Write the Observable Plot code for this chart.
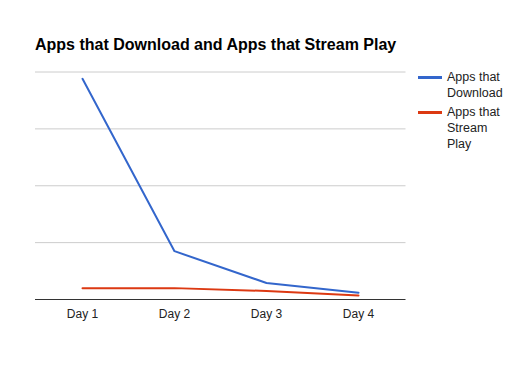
<!DOCTYPE html>
<html><head><meta charset="utf-8">
<script src="https://cdn.jsdelivr.net/npm/d3@7"></script>
<script src="https://cdn.jsdelivr.net/npm/@observablehq/plot@0.6"></script>
<style>
body{margin:0;background:#fff;font-family:"Liberation Sans",Arial,sans-serif;}
#wrap{position:relative;width:520px;height:371px;}
#title{position:absolute;left:35px;top:36px;font-size:16px;font-weight:bold;color:#000;white-space:nowrap;}
.leg{position:absolute;left:418px;font-size:12.5px;color:#222;line-height:16px;}
.leg .sw{position:absolute;left:0;top:7px;width:24px;height:2.5px;}
.leg .tx{position:absolute;left:29px;top:0;width:80px;}
</style></head>
<body><div id="wrap"><div id="chart"></div><div id="title"></div><div id="legend"></div></div>
<script>
const days = ["Day 1", "Day 2", "Day 3", "Day 4"];
const seriesNames = ["Apps that Download", "Apps that Stream Play"];
const download = [388, 85, 29, 12];
const stream = [20, 20, 15, 7];
const gridTicks = [100, 200, 300, 400];
const colors = ["#3366cc", "#dc3912"];
const titleText = "Apps that Download and Apps that Stream Play";

const data = [];
days.forEach((d, i) => {
  data.push({day: d, value: download[i], series: seriesNames[0]});
  data.push({day: d, value: stream[i], series: seriesNames[1]});
});

const chart = Plot.plot({
  width: 520, height: 371,
  marginLeft: 35, marginRight: 114.5, marginTop: 71.5, marginBottom: 72,
  style: {fontFamily: '"Liberation Sans", Arial, sans-serif', fontSize: "12px", color: "#222", background: "#fff"},
  x: {type: "point", domain: days, padding: 0.5, label: null},
  y: {domain: [0, 400], axis: null},
  color: {domain: seriesNames, range: colors},
  marks: [
    Plot.ruleY(gridTicks, {stroke: "#ccc", strokeWidth: 1}),
    Plot.line(data, {x: "day", y: "value", z: "series", stroke: "series", strokeWidth: 2}),
    Plot.ruleY([0], {stroke: "#333", strokeWidth: 1}),
    Plot.axisX({tickSize: 0, tickPadding: 10, fontSize: 12, fill: "#222", label: null})
  ]
});
document.getElementById("chart").appendChild(chart);
document.getElementById("title").textContent = titleText;

const leg = document.getElementById("legend");
const legTops = [69, 104];
const legLines = [["Apps that", "Download"], ["Apps that", "Stream", "Play"]];
seriesNames.forEach((s, i) => {
  const item = document.createElement("div");
  item.className = "leg";
  item.style.top = legTops[i] + "px";
  const sw = document.createElement("div");
  sw.className = "sw"; sw.style.background = colors[i];
  const tx = document.createElement("div");
  tx.className = "tx";
  tx.innerHTML = legLines[i].join("<br>");
  item.appendChild(sw); item.appendChild(tx);
  leg.appendChild(item);
});
</script></body></html>
